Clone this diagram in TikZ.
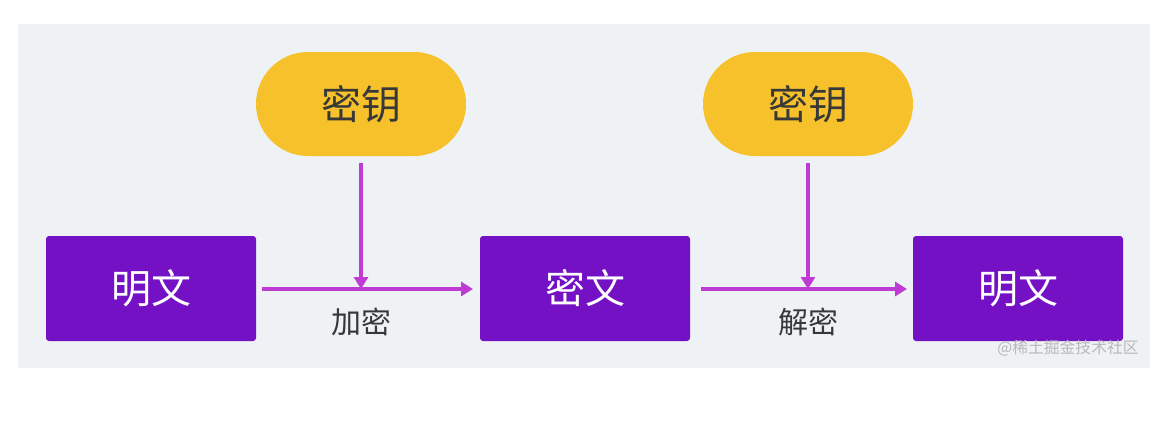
\documentclass[tikz,border=0pt]{standalone}
\usepackage{fontspec}
\setmainfont{Noto Sans CJK SC}
\usetikzlibrary{arrows.meta}
\definecolor{panel}{HTML}{EEF2F5}
\definecolor{boxpurple}{HTML}{7411C5}
\definecolor{keyyellow}{HTML}{F6C12A}
\definecolor{arrowmag}{HTML}{BE3CD4}
\definecolor{txtdark}{HTML}{383838}
\definecolor{wm}{HTML}{B8B8B8}
\tikzset{
  textbox/.style={fill=boxpurple, rounded corners=3pt, minimum width=210pt, minimum height=105pt, inner sep=0pt, text=white, font=\fontsize{40}{46}\selectfont},
  keybox/.style={fill=keyyellow, rounded corners=52pt, minimum width=210pt, minimum height=104pt, inner sep=0pt, text=txtdark, font=\fontsize{40}{46}\selectfont},
  flow/.style={draw=arrowmag, line width=3.5pt, -{Triangle[length=12pt,width=14pt]}},
  lbl/.style={text=txtdark, font=\fontsize{30}{34}\selectfont, inner sep=0pt}
}
\begin{document}
\begin{tikzpicture}[x=1pt,y=-1pt]
\useasboundingbox (0,0) rectangle (1175,421);
\fill[white] (0,0) rectangle (1175,421);
\fill[panel] (18,24) rectangle (1150,368);
\node[textbox] (p1) at (151,288.5) {明文};
\node[textbox] (c) at (585,288.5) {密文};
\node[textbox] (p2) at (1018,288.5) {明文};
\node[keybox] (k1) at (361,104) {密钥};
\node[keybox] (k2) at (808,104) {密钥};
\coordinate (a1s) at (262,289);
\coordinate (a1e) at (473,289);
\coordinate (m1) at (361,289);
\coordinate (a2s) at (701,289);
\coordinate (a2e) at (907,289);
\coordinate (m2) at (808,289);
\draw[flow] (a1s) -- (a1e);
\draw[flow] (a2s) -- (a2e);
\draw[flow] ([yshift=-7pt]k1.south) -- (m1);
\draw[flow] ([yshift=-7pt]k2.south) -- (m2);
\node[lbl] (l1) at (361,322) {加密};
\node[lbl] (l2) at (808,322) {解密};
\node[text=wm, font=\fontsize{15.8}{18}\selectfont, inner sep=0pt] (w) at (1068,348) {@稀土掘金技术社区};
\end{tikzpicture}
\end{document}
